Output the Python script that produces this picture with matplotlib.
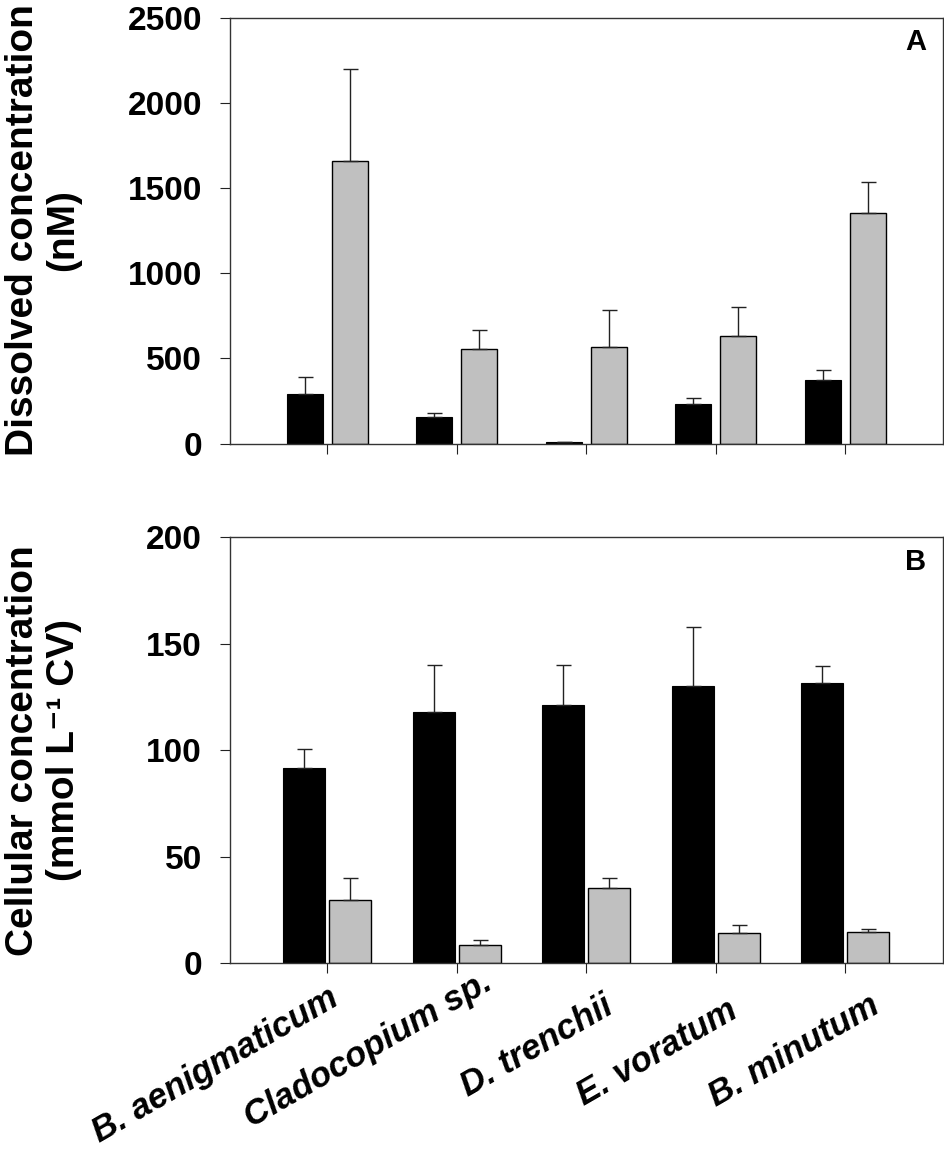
import matplotlib
matplotlib.use("Agg")
import matplotlib.pyplot as plt
import matplotlib.transforms as mtransforms
import numpy as np

plt.rcParams['font.family'] = ['Liberation Sans', 'DejaVu Sans']
plt.rcParams['font.weight'] = 'bold'

species = ["B. aenigmaticum", "Cladocopium sp.", "D. trenchii", "E. voratum", "B. minutum"]

# Panel A: dissolved concentration (nM)
dissolved_black = [293, 156, 8, 231, 372]
dissolved_black_err = [98, 24, 4, 39, 58]
dissolved_gray = [1661, 556, 567, 632, 1356]
dissolved_gray_err = [540, 111, 217, 170, 178]

# Panel B: cellular concentration (mmol L-1 CV)
cellular_black = [91.9, 118.2, 121.4, 130.4, 131.8]
cellular_black_err = [8.6, 22.0, 18.5, 27.7, 7.8]
cellular_gray = [29.6, 8.6, 35.5, 14.4, 14.6]
cellular_gray_err = [10.5, 2.4, 4.7, 3.6, 1.4]

y_ticks_a = [0, 500, 1000, 1500, 2000, 2500]
y_ticks_b = [0, 50, 100, 150, 200]

fig = plt.figure(figsize=(9.45, 11.5), dpi=100)
ax1 = fig.add_axes([0.2434, 0.6143, 0.754, 0.3704])
ax2 = fig.add_axes([0.2434, 0.1623, 0.754, 0.3704])

x = np.arange(len(species))
GRAY = '#c0c0c0'

def draw(ax, bv, be, gv, ge, width, off, ylim, yticks, letter):
    ax.bar(x - off, bv, width=width, color='black', edgecolor='black', linewidth=0.8, zorder=2)
    ax.bar(x + off, gv, width=width, color=GRAY, edgecolor='black', linewidth=1.0, zorder=2)
    ax.errorbar(x - off, bv, yerr=[np.zeros(len(bv)), be], fmt='none', ecolor='#222222',
                elinewidth=1.0, capsize=5.4, capthick=1.0, zorder=3)
    ax.errorbar(x + off, gv, yerr=[np.zeros(len(gv)), ge], fmt='none', ecolor='#222222',
                elinewidth=1.0, capsize=5.4, capthick=1.0, zorder=3)
    ax.set_xlim(-0.752, 4.752)
    ax.set_ylim(*ylim)
    ax.set_yticks(yticks)
    ax.set_xticks(x)
    ax.tick_params(axis='both', direction='out', length=7.2, width=0.8, colors='#222222',
                   labelcolor='black', labelsize=24)
    ax.tick_params(axis='y', pad=13)
    for s in ax.spines.values():
        s.set_linewidth(1.0)
        s.set_color('#333333')
    for lab in ax.get_yticklabels():
        lab.set_fontweight('bold')
    ax.text(0.977, 0.975, letter, transform=ax.transAxes, ha='right', va='top',
            fontsize=21, fontweight='bold')

draw(ax1, dissolved_black, dissolved_black_err, dissolved_gray, dissolved_gray_err,
     0.28, 0.174, (0, 2500), y_ticks_a, 'A')
draw(ax2, cellular_black, cellular_black_err, cellular_gray, cellular_gray_err,
     0.325, 0.177, (0, 200), y_ticks_b, 'B')

ax1.set_xticklabels([])
ax2.tick_params(axis='x', pad=6)
ax2.set_xticklabels(species, rotation=30, ha='right', va='top', rotation_mode='anchor',
                    fontsize=25, fontweight='bold', fontstyle='italic')
# small per-label nudges (pixels: right, down) to follow the reference layout
label_shift_px = [(0, 0), (24, -16), (16, 8), (11, 12), (23, 7)]
for lab, (dx, dy) in zip(ax2.get_xticklabels(), label_shift_px):
    lab.set_transform(lab.get_transform() +
                      mtransforms.ScaledTranslation(dx / 100, -dy / 100, fig.dpi_scale_trans))

fig.text(0.046, 0.7996, "Dissolved concentration\n(nM)", rotation=90, ha='center',
         va='center', multialignment='center', fontsize=28, fontweight='bold', linespacing=1.15)
fig.text(0.046, 0.3476, "Cellular concentration\n(mmol L\u207b\u00b9 CV)", rotation=90,
         ha='center', va='center', multialignment='center', fontsize=28, fontweight='bold',
         linespacing=1.15)

fig.savefig("out.png", dpi=100)
